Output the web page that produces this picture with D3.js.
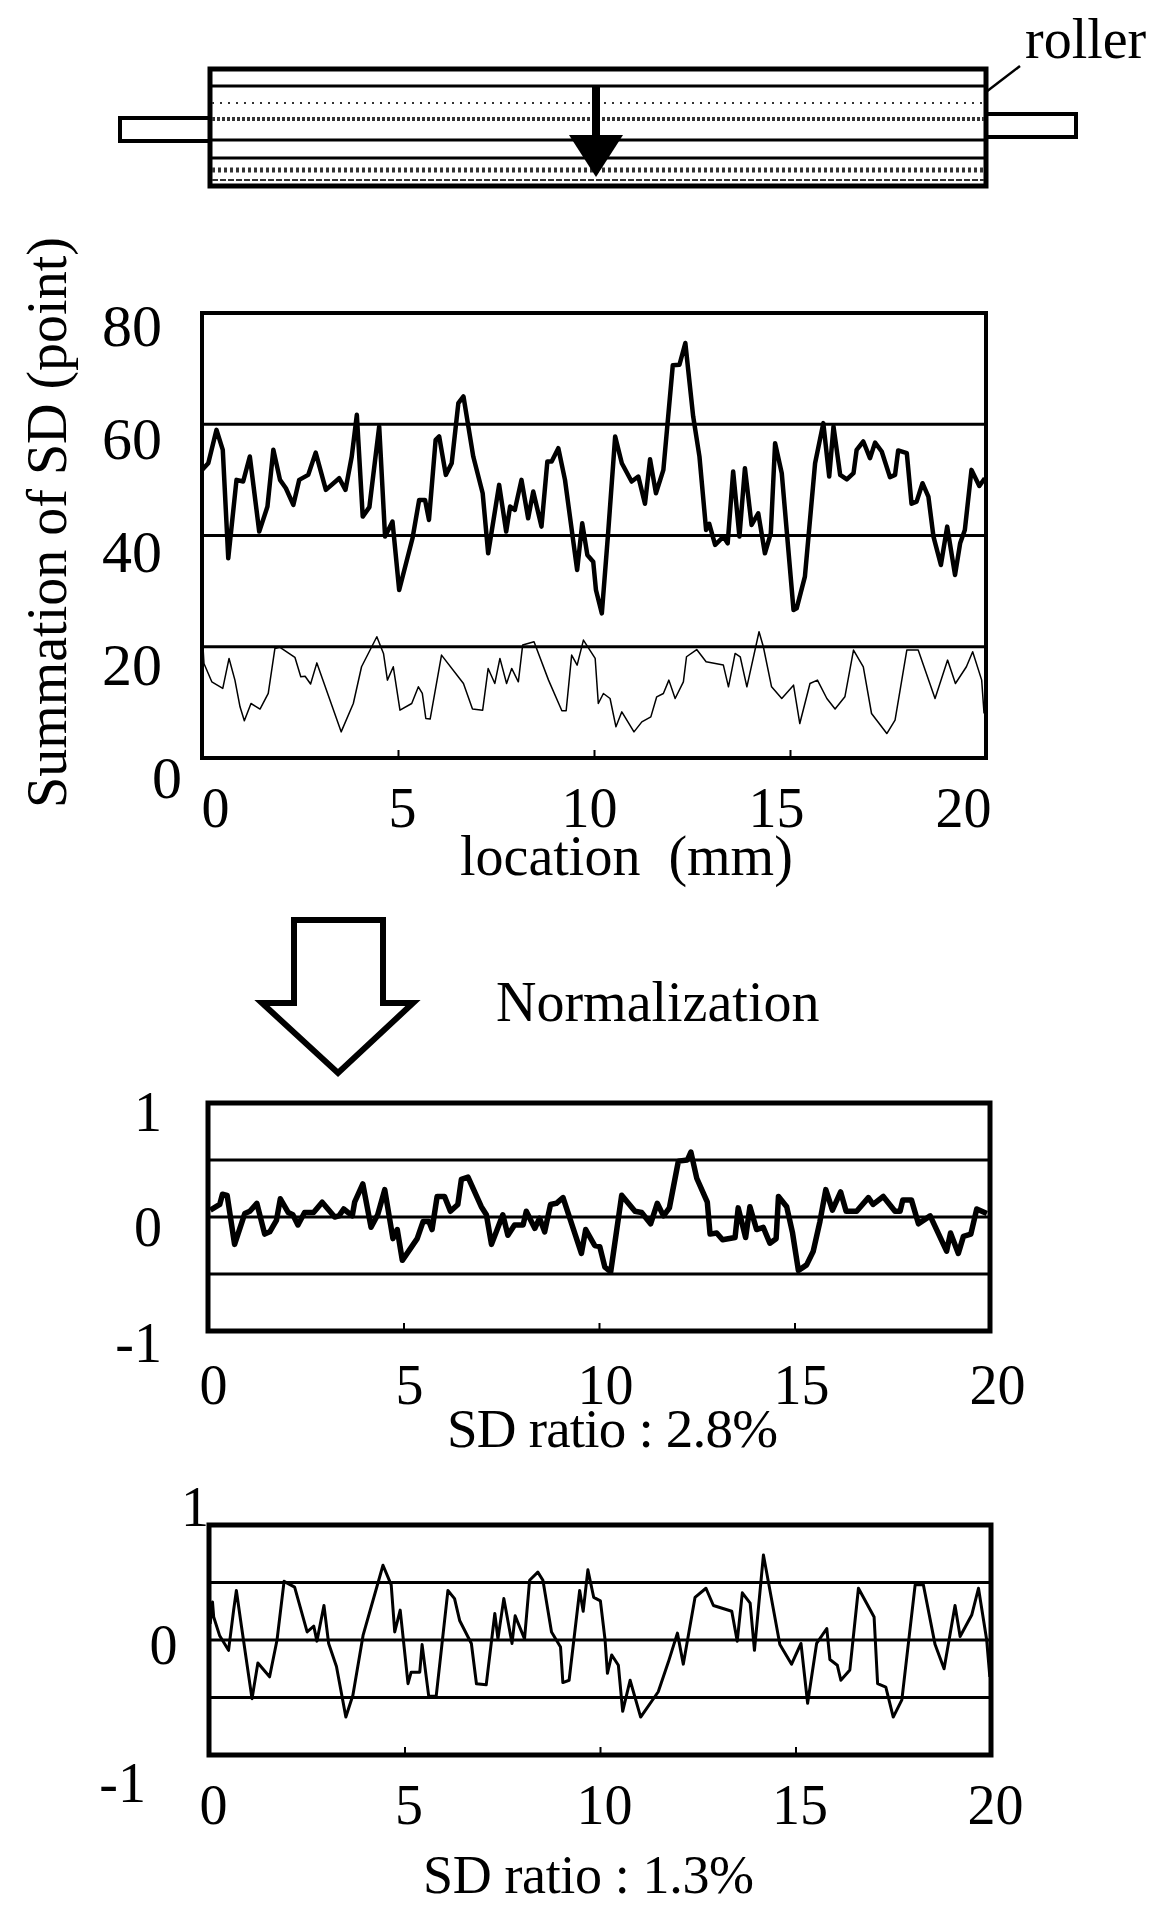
<!DOCTYPE html>
<html>
    <head>
        <meta charset="utf-8">
        <title>Normalization of SD</title>
        <style>
body {
    margin: 0;
    background-color: white;
}

svg {
    display: block;
}

text {
    font-family: 'Liberation Serif', serif;
    fill: black;
}

.domain {
    display: none;
}

.tick line {
    stroke: black;
    stroke-width: 2;
}
        </style>
        <script src="https://cdn.jsdelivr.net/npm/d3@7"></script>
    </head>
    <body>
        <script>
var width = 1161,
    height = 1906;

// top chart: summation of SD against location (mm)
var sumTopX = [0, 0.16, 0.37, 0.53, 0.67, 0.88, 1.05, 1.22, 1.46, 1.67, 1.82, 1.99, 2.14, 2.33, 2.48, 2.71, 2.90, 3.16, 3.50, 3.66, 3.82, 3.95, 4.10, 4.27, 4.52, 4.67, 4.86, 5.03, 5.37, 5.54, 5.69, 5.79, 5.96, 6.05, 6.22, 6.37, 6.54, 6.67, 6.92, 7.16, 7.30, 7.58, 7.76, 7.86, 7.98, 8.15, 8.32, 8.45, 8.66, 8.81, 8.92, 9.09, 9.26, 9.57, 9.70, 9.83, 9.98, 10.05, 10.20, 10.36, 10.54, 10.71, 10.96, 11.13, 11.30, 11.43, 11.58, 11.77, 11.90, 12.01, 12.18, 12.33, 12.53, 12.69, 12.86, 12.94, 13.09, 13.30, 13.41, 13.55, 13.71, 13.85, 14.02, 14.19, 14.36, 14.51, 14.62, 14.79, 15.09, 15.17, 15.38, 15.64, 15.85, 16.00, 16.11, 16.28, 16.45, 16.62, 16.70, 16.87, 17.04, 17.17, 17.34, 17.55, 17.68, 17.76, 17.98, 18.10, 18.23, 18.38, 18.53, 18.66, 18.85, 19.01, 19.21, 19.34, 19.46, 19.63, 19.83, 19.97];
var sumTopY = [51.8, 53.0, 59.0, 55.4, 35.9, 50.0, 49.7, 54.2, 40.7, 45.2, 55.4, 50.0, 48.5, 45.5, 50.0, 50.9, 54.9, 48.2, 50.3, 48.2, 54.2, 61.7, 43.4, 45.1, 59.6, 39.8, 42.5, 30.2, 39.5, 46.4, 46.4, 42.8, 57.2, 57.8, 50.9, 53.0, 63.8, 65.0, 54.2, 47.6, 36.8, 49.1, 40.7, 45.2, 44.6, 50.0, 43.1, 47.9, 41.6, 53.3, 53.3, 55.7, 50.0, 33.8, 42.2, 36.5, 35.3, 30.2, 26.0, 40.4, 57.8, 53.0, 49.7, 50.6, 45.7, 53.7, 47.6, 51.8, 62.0, 70.6, 70.7, 74.6, 61.4, 54.2, 41.0, 42.1, 38.3, 39.8, 38.6, 51.5, 39.8, 52.1, 41.9, 44.0, 36.8, 40.4, 56.6, 51.2, 26.6, 26.9, 32.6, 53.0, 60.2, 50.6, 59.6, 50.9, 50.1, 51.2, 55.4, 56.9, 53.9, 56.7, 55.1, 50.5, 50.9, 55.3, 54.8, 45.7, 46.1, 49.4, 47.0, 39.8, 34.7, 41.6, 32.9, 38.6, 41.0, 51.8, 48.9, 50.3];
var sumLowX = [0.03, 0.05, 0.25, 0.53, 0.69, 0.84, 0.97, 1.08, 1.25, 1.48, 1.69, 1.86, 1.99, 2.37, 2.52, 2.63, 2.77, 2.93, 3.55, 3.86, 4.07, 4.46, 4.63, 4.73, 4.88, 5.05, 5.35, 5.52, 5.62, 5.71, 5.82, 6.11, 6.67, 6.90, 7.16, 7.30, 7.47, 7.60, 7.77, 7.90, 8.07, 8.18, 8.47, 8.84, 9.18, 9.29, 9.43, 9.57, 9.73, 10.03, 10.11, 10.24, 10.41, 10.56, 10.71, 11.02, 11.22, 11.45, 11.60, 11.77, 11.91, 12.07, 12.28, 12.36, 12.62, 12.86, 13.30, 13.43, 13.60, 13.73, 13.90, 14.21, 14.32, 14.53, 14.79, 15.09, 15.25, 15.51, 15.70, 15.94, 16.15, 16.40, 16.62, 16.87, 17.08, 17.47, 17.68, 17.98, 18.27, 18.70, 19.02, 19.22, 19.50, 19.66, 19.89, 19.95];
var sumLowY = [19.4, 17.0, 13.7, 12.5, 17.9, 14.0, 9.2, 6.7, 9.8, 8.8, 11.6, 19.7, 19.9, 18.1, 14.6, 14.7, 13.3, 17.1, 4.7, 9.8, 16.4, 21.8, 18.8, 14.0, 16.4, 8.6, 9.8, 12.8, 11.6, 7.1, 7.0, 18.5, 13.4, 8.8, 8.6, 16.1, 13.4, 17.9, 13.4, 16.1, 13.7, 20.3, 20.9, 14.0, 8.5, 8.5, 18.5, 16.7, 21.2, 17.9, 9.8, 11.6, 10.7, 5.6, 8.3, 4.7, 6.5, 7.4, 11.0, 11.6, 14.0, 10.7, 13.7, 18.2, 19.5, 17.3, 16.7, 12.8, 18.8, 18.2, 12.8, 22.7, 20.0, 12.8, 10.7, 13.1, 6.2, 13.4, 14.0, 10.7, 8.8, 11.0, 19.4, 16.4, 8.0, 4.4, 6.8, 19.4, 19.4, 10.7, 17.6, 13.4, 16.4, 19.1, 14.0, 8.0];

// normalized, SD ratio 2.8%
var normAX = [0.06, 0.30, 0.37, 0.49, 0.68, 0.94, 1.07, 1.25, 1.45, 1.58, 1.75, 1.85, 2.05, 2.17, 2.30, 2.47, 2.70, 2.92, 3.24, 3.35, 3.47, 3.69, 3.75, 3.96, 4.17, 4.34, 4.52, 4.73, 4.84, 4.97, 5.35, 5.50, 5.65, 5.73, 5.86, 6.05, 6.20, 6.39, 6.48, 6.65, 6.99, 7.12, 7.25, 7.54, 7.67, 7.84, 8.06, 8.14, 8.36, 8.48, 8.61, 8.76, 8.91, 9.08, 9.55, 9.66, 9.89, 10.02, 10.15, 10.30, 10.58, 10.92, 11.09, 11.32, 11.49, 11.65, 11.80, 12.03, 12.26, 12.35, 12.50, 12.77, 12.84, 13.01, 13.16, 13.48, 13.56, 13.75, 13.86, 14.03, 14.20, 14.37, 14.53, 14.59, 14.80, 14.95, 15.10, 15.31, 15.48, 15.65, 15.80, 15.97, 16.18, 16.32, 16.59, 16.89, 17.01, 17.27, 17.57, 17.70, 17.77, 17.99, 18.17, 18.47, 18.89, 18.99, 19.19, 19.32, 19.51, 19.66, 19.92];
var normAY = [0.06, 0.11, 0.20, 0.19, -0.24, 0.03, 0.05, 0.12, -0.15, -0.13, -0.03, 0.16, 0.04, 0.02, -0.07, 0.04, 0.04, 0.13, 0.00, 0.01, 0.07, 0.01, 0.13, 0.29, -0.09, 0.02, 0.24, -0.19, -0.11, -0.38, -0.19, -0.04, -0.04, -0.11, 0.18, 0.18, 0.05, 0.11, 0.33, 0.35, 0.09, 0.02, -0.24, 0.02, -0.16, -0.07, -0.07, 0.05, -0.10, -0.01, -0.13, 0.11, 0.12, 0.17, -0.32, -0.11, -0.25, -0.26, -0.44, -0.48, 0.19, 0.05, 0.04, -0.06, 0.12, 0.01, 0.08, 0.49, 0.50, 0.57, 0.34, 0.13, -0.15, -0.14, -0.20, -0.18, 0.08, -0.18, 0.09, -0.11, -0.09, -0.23, -0.19, 0.18, 0.09, -0.14, -0.47, -0.42, -0.30, -0.04, 0.24, 0.06, 0.22, 0.05, 0.05, 0.17, 0.11, 0.18, 0.05, 0.05, 0.15, 0.15, -0.06, 0.01, -0.30, -0.14, -0.32, -0.17, -0.15, 0.07, 0.03];

// normalized, SD ratio 1.3%
var normBX = [0.03, 0.09, 0.12, 0.27, 0.50, 0.63, 0.70, 0.83, 1.10, 1.25, 1.55, 1.74, 1.92, 2.19, 2.51, 2.68, 2.76, 2.94, 3.06, 3.26, 3.50, 3.68, 3.94, 4.45, 4.66, 4.75, 4.89, 5.09, 5.17, 5.39, 5.45, 5.62, 5.81, 6.11, 6.28, 6.41, 6.71, 6.84, 7.09, 7.31, 7.39, 7.54, 7.75, 7.83, 8.07, 8.20, 8.41, 8.54, 8.76, 8.99, 9.05, 9.21, 9.48, 9.57, 9.69, 9.84, 10.01, 10.13, 10.19, 10.30, 10.47, 10.58, 10.77, 11.04, 11.49, 11.75, 11.98, 12.13, 12.43, 12.71, 12.90, 13.37, 13.51, 13.64, 13.84, 13.95, 14.18, 14.60, 14.90, 15.14, 15.31, 15.54, 15.80, 15.88, 16.07, 16.16, 16.39, 16.61, 17.01, 17.10, 17.31, 17.50, 17.72, 18.06, 18.27, 18.57, 18.80, 19.08, 19.21, 19.51, 19.68, 19.89, 19.97];
var normBY = [0.14, 0.33, 0.20, 0.04, -0.09, 0.26, 0.43, 0.12, -0.51, -0.20, -0.32, 0.00, 0.51, 0.46, 0.07, 0.12, -0.01, 0.30, -0.03, -0.23, -0.67, -0.48, 0.04, 0.65, 0.48, 0.07, 0.26, -0.38, -0.28, -0.28, -0.04, -0.49, -0.49, 0.43, 0.36, 0.17, -0.03, -0.38, -0.39, 0.23, 0.01, 0.36, -0.03, 0.21, 0.01, 0.52, 0.59, 0.52, 0.07, -0.06, -0.37, -0.35, 0.43, 0.25, 0.61, 0.37, 0.34, 0.00, -0.29, -0.13, -0.22, -0.62, -0.35, -0.67, -0.45, -0.19, 0.06, -0.21, 0.37, 0.45, 0.30, 0.25, -0.01, 0.41, 0.32, -0.09, 0.74, -0.04, -0.21, -0.03, -0.55, -0.03, 0.10, -0.17, -0.22, -0.35, -0.26, 0.45, 0.20, -0.38, -0.41, -0.67, -0.52, 0.48, 0.48, -0.04, -0.25, 0.30, 0.03, 0.22, 0.45, 0.00, -0.32];

var xTicks = [0, 5, 10, 15, 20];
var sumTicks = [0, 20, 40, 60, 80];
var sumGrid = [20, 40, 60];
var normTicks = [-1, 0, 1];
var normGrid = [-0.5, 0, 0.5];

var svg = d3.select('body')
    .append('svg')
    .attr('width', width)
    .attr('height', height);

var line = function (x, y) {
    return d3.line().x(function (d) { return x(d[0]); }).y(function (d) { return y(d[1]); });
};

var drawPanel = function (p) {
    var x = d3.scaleLinear().domain([0, 20]).range([p.left, p.right]);
    var y = d3.scaleLinear().domain(p.yDomain).range([p.bottom, p.top]);

    svg.append('g').selectAll('line')
        .data(p.grid)
        .enter().append('line')
        .attr('x1', p.left)
        .attr('x2', p.right)
        .attr('y1', function (d) { return y(d); })
        .attr('y2', function (d) { return y(d); })
        .attr('stroke', 'black')
        .attr('stroke-width', 3);

    // little inside ticks on the bottom edge
    svg.append('g')
        .attr('transform', 'translate(0,' + p.bottom + ')')
        .call(d3.axisTop(x).tickValues(xTicks).tickSize(8).tickFormat(''));

    svg.append('rect')
        .attr('x', p.left)
        .attr('y', p.top)
        .attr('width', p.right - p.left)
        .attr('height', p.bottom - p.top)
        .attr('fill', 'none')
        .attr('stroke', 'black')
        .attr('stroke-width', p.frame);

    p.series.forEach(function (s) {
        svg.append('path')
            .datum(d3.zip(s.xs, s.ys))
            .attr('d', line(x, y))
            .attr('fill', 'none')
            .attr('stroke', 'black')
            .attr('stroke-width', s.width)
            .attr('stroke-linejoin', 'round');
    });

    // tick labels sit off the tick marks in the original, so they get their own scales
    var xLab = d3.scaleLinear().domain([0, 20]).range(p.xLabelRange);
    var yLab = d3.scaleLinear().domain(p.yDomain).range(p.yLabelRange);

    var xAxis = svg.append('g')
        .attr('transform', 'translate(0,' + p.xLabelY + ')')
        .call(d3.axisBottom(xLab).tickValues(xTicks).tickSize(0).tickPadding(0));
    xAxis.selectAll('text').attr('font-size', 56).attr('dy', '0');

    var yAxis = svg.append('g')
        .call(d3.axisLeft(yLab).tickValues(p.yTicks).tickSize(0).tickPadding(0).tickFormat(function (d) { return String(d); }));
    yAxis.selectAll('text')
        .attr('font-size', p.yFont)
        .attr('x', p.yLabelX)
        .attr('dy', '0.33em');
};

drawPanel({
    left: 202, right: 986, top: 313, bottom: 758,
    yDomain: [0, 80], yTicks: sumTicks, grid: sumGrid, frame: 4,
    series: [{xs: sumTopX, ys: sumTopY, width: 4.5}, {xs: sumLowX, ys: sumLowY, width: 1.5}],
    xLabelRange: [215, 963], xLabelY: 827,
    yLabelRange: [778, 326], yFont: 60,
    yLabelX: function (d) { return d === 0 ? 182 : 162; }
});

drawPanel({
    left: 208, right: 990, top: 1103, bottom: 1331,
    yDomain: [-1, 1], yTicks: normTicks, grid: normGrid, frame: 5,
    series: [{xs: normAX, ys: normAY, width: 5.5}],
    xLabelRange: [213, 997], xLabelY: 1404,
    yLabelRange: [1343, 1112], yFont: 56,
    yLabelX: function () { return 162; }
});

drawPanel({
    left: 209, right: 991, top: 1525, bottom: 1755,
    yDomain: [-1, 1], yTicks: normTicks, grid: normGrid, frame: 5,
    series: [{xs: normBX, ys: normBY, width: 3}],
    xLabelRange: [213, 995], xLabelY: 1824,
    yLabelRange: [1783, 1507], yFont: 56,
    yLabelX: d3.scaleLinear().domain([-1, 1]).range([146, 209])
});

var addText = function (str, x, y, size) {
    return svg.append('text')
        .attr('x', x)
        .attr('y', y)
        .attr('font-size', size)
        .text(str);
};

addText('location  (mm)', 460, 875, 56).attr('xml:space', 'preserve');
addText('Normalization', 496, 1021, 56);
addText('SD ratio : 2.8%', 447, 1447, 55).attr('textLength', 331);
addText('SD ratio : 1.3%', 423, 1893, 54).attr('textLength', 331);
addText('roller', 1025, 58, 56);

svg.append('text')
    .attr('transform', 'translate(66,808) rotate(-90)')
    .attr('font-size', 56)
    .text('Summation of SD (point)');

// open arrow between the charts
svg.append('path')
    .attr('d', d3.line()([[294, 920], [383, 920], [383, 1003], [413, 1003], [338, 1073], [262, 1003], [294, 1003]]) + 'Z')
    .attr('fill', 'white')
    .attr('stroke', 'black')
    .attr('stroke-width', 6);

// roller sketch
var roller = svg.append('g').attr('fill', 'none').attr('stroke', 'black');
roller.append('rect').attr('x', 120).attr('y', 118).attr('width', 90).attr('height', 23).attr('stroke-width', 4);
roller.append('rect').attr('x', 986).attr('y', 114).attr('width', 90).attr('height', 23).attr('stroke-width', 4);
roller.append('rect').attr('x', 210).attr('y', 69).attr('width', 776).attr('height', 117).attr('fill', 'white').attr('stroke-width', 5);
[86, 140, 158].forEach(function (ly) {
    roller.append('line').attr('x1', 210).attr('x2', 986).attr('y1', ly).attr('y2', ly).attr('stroke-width', 3);
});
[[103, 2, '2 6'], [119, 4, '3 2'], [170, 5, '3 3'], [180, 2, '6 2']].forEach(function (r) {
    roller.append('line')
        .attr('x1', 212).attr('x2', 984).attr('y1', r[0]).attr('y2', r[0])
        .attr('stroke', '#333').attr('stroke-width', r[1]).attr('stroke-dasharray', r[2]);
});
roller.append('line').attr('x1', 986).attr('y1', 92).attr('x2', 1020).attr('y2', 66).attr('stroke-width', 2.5);
roller.append('line').attr('x1', 596).attr('y1', 85).attr('x2', 596).attr('y2', 140).attr('stroke-width', 8);
svg.append('path')
    .attr('d', d3.line()([[569, 135], [623, 135], [596, 177]]) + 'Z')
    .attr('fill', 'black');
        </script>
    </body>
</html>
